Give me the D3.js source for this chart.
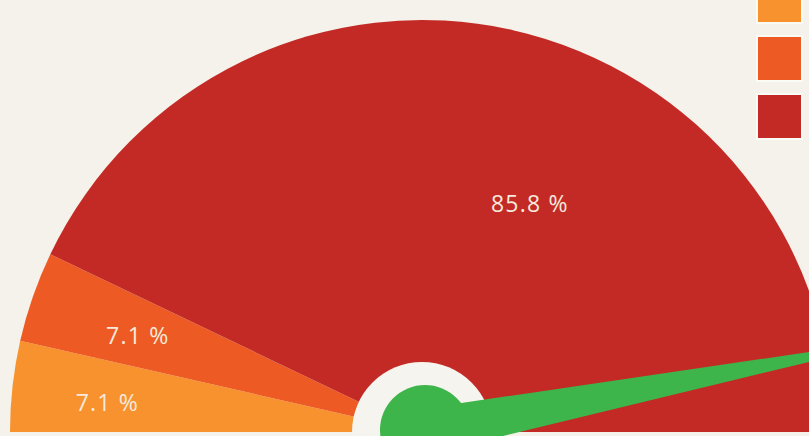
<!DOCTYPE html>
<html lang="en">
  <head>
    <meta charset="UTF-8" />
    <title>Gauge</title>
    <script src="https://d3js.org/d3.v7.min.js"></script>
    <style>
      html, body { margin: 0; padding: 0; background: #f4f2ea; overflow: hidden; }
      text { font-family: "Open Sans", "Noto Sans", sans-serif; }
    </style>
  </head>
  <body>
    <svg width="809" height="436"></svg>
    <script>
      // data
      var categories = ["A", "B", "C"];
      var shares = [7.1, 7.1, 85.8];
      var labels = ["7.1 %", "7.1 %", "85.8 %"];
      var colors = ["#f7922f", "#ee5a23", "#c32a26"];
      var needleValue = 93.9; // percent of the half circle

      var svg = d3.select("svg"),
        width = +svg.attr("width"),
        height = +svg.attr("height");

      var cx = 422, cy = 432, outerR = 412;

      var g = svg.append("g").attr("transform", "translate(" + cx + "," + cy + ")");

      var pie = d3.pie()
        .sort(null)
        .startAngle(-Math.PI / 2)
        .endAngle(Math.PI / 2)
        .value((d) => d);

      var arc = d3.arc().innerRadius(0).outerRadius(outerR);

      var slices = pie(shares);

      g.selectAll("path.slice")
        .data(slices)
        .join("path")
        .attr("class", "slice")
        .attr("d", arc)
        .style("fill", (d, i) => colors[i]);

      // labels: small slices sit near mid angle, the big one is pushed right
      var labelR = [316, 300, 252];
      var labelShift = [0.02, 0.009, -0.219];
      g.selectAll("text.lbl")
        .data(slices)
        .join("text")
        .attr("class", "lbl")
        .attr("x", (d, i) => labelR[i] * Math.sin((d.startAngle + d.endAngle) / 2 - labelShift[i]))
        .attr("y", (d, i) => -labelR[i] * Math.cos((d.startAngle + d.endAngle) / 2 - labelShift[i]))
        .attr("dy", "0.35em")
        .attr("text-anchor", "middle")
        .style("fill", "#f6eadc")
        .style("font-size", "23px")
        .style("letter-spacing", "1.2px")
        .text((d, i) => labels[i]);

      // hub ring
      g.append("circle").attr("r", 70).style("fill", "#f5f4ee");

      // needle
      var angle = d3.scaleLinear().domain([0, 100]).range([-Math.PI / 2, Math.PI / 2]);
      var a = angle(needleValue);
      var needleLen = 500, needleHalf = 23;
      var ux = Math.sin(a), uy = -Math.cos(a);
      var needlePts = [
        [-uy * needleHalf, ux * needleHalf],
        [ux * needleLen, uy * needleLen],
        [uy * needleHalf, -ux * needleHalf]
      ];
      g.append("path")
        .attr("d", d3.line()(needlePts) + "Z")
        .style("fill", "#3db54a");

      g.append("circle")
        .attr("cx", 3)
        .attr("cy", -2)
        .attr("r", 45)
        .style("fill", "#3db54a");

      // legend (names run off the right edge)
      var legend = svg.append("g").attr("transform", "translate(757,-22)");
      legend.selectAll("rect")
        .data(categories)
        .join("rect")
        .attr("x", 0)
        .attr("y", (d, i) => i * 58)
        .attr("width", 45)
        .attr("height", 45)
        .style("fill", (d, i) => colors[i])
        .style("stroke", "#fbfbf6")
        .style("stroke-width", 2);
    </script>
  </body>
</html>
